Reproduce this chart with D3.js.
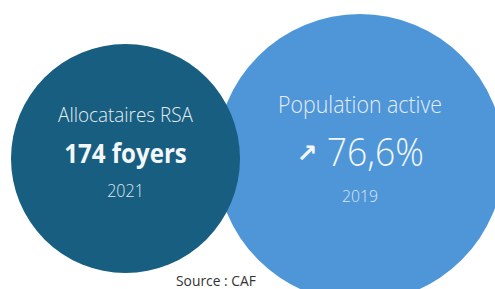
<!DOCTYPE html>
<html><head><meta charset="utf-8">
<script src="https://cdn.jsdelivr.net/npm/d3@7"></script>
<style>html,body{margin:0;padding:0;background:#fff;overflow:hidden}</style>
</head><body><svg id="c" width="495" height="289"></svg>
<script>
// ---- data ----
const titles = ["Population active", "Allocataires RSA"];
const values = ["76,6%", "174 foyers"];
const years = ["2019", "2021"];
const trends = ["↗", ""];
const sourceText = "Source : CAF";

// ---- layout / style (not data) ----
const layout = [
  {cx: 360, cy: 158, r: 144, fill: "#4f96d9",
   title: {dy: -44.7, w: 164, weight: 300},
   value: {dx: 15.3, dy: 8, w: 97, weight: 300},
   arrow: {dx: -53, dy: 3.5, w: 21},
   year: {dy: 43.7, w: 36}},
  {cx: 125.5, cy: 158.5, r: 114.5, fill: "#175e80",
   title: {dy: -36.2, w: 135, weight: 300},
   value: {dx: 0, dy: 4.8, w: 122.7, weight: 700},
   year: {dy: 38.8, w: 36.7}}
];
const font = "'Open Sans', sans-serif";
const stretch = 1.09;

const svg = d3.select("#c");
const fit = (t, w) => {
  t.style("font-size", "100px");
  const L = t.node().getComputedTextLength();
  t.style("font-size", (100 * w / L) + "px");
};
const label = (sel, str, x, y, opts) => {
  const t = sel.append("text").text(str)
    .attr("transform", `translate(${x},${y}) scale(1,${opts.k || stretch})`)
    .attr("text-anchor", "middle")
    .style("font-family", opts.family || font)
    .style("font-weight", opts.weight || 400)
    .attr("fill", opts.fill);
  fit(t, opts.w);
  return t;
};

const g = svg.selectAll("g.bubble").data(d3.range(titles.length)).join("g").attr("class", "bubble");
g.append("circle")
  .attr("cx", i => layout[i].cx).attr("cy", i => layout[i].cy)
  .attr("r", i => layout[i].r).attr("fill", i => layout[i].fill);

g.each(function(i) {
  const L = layout[i], s = d3.select(this);
  label(s, titles[i], L.cx, L.cy + L.title.dy, {w: L.title.w, weight: L.title.weight, fill: "#e6edf4"});
  label(s, values[i], L.cx + L.value.dx, L.cy + L.value.dy, {w: L.value.w, weight: L.value.weight, fill: "#f4f7fa"});
  if (trends[i]) {
    label(s, trends[i], L.cx + L.arrow.dx, L.cy + L.arrow.dy,
      {w: L.arrow.w, weight: 700, fill: "#f4f7fa", family: "'DejaVu Sans', sans-serif", k: 1});
  }
  label(s, years[i], L.cx, L.cy + L.year.dy, {w: L.year.w, weight: 300, fill: "#dfe8f1"});
});

label(svg, sourceText, 216, 285.5, {w: 80, weight: 400, fill: "#333", k: 1.05});
</script></body></html>
